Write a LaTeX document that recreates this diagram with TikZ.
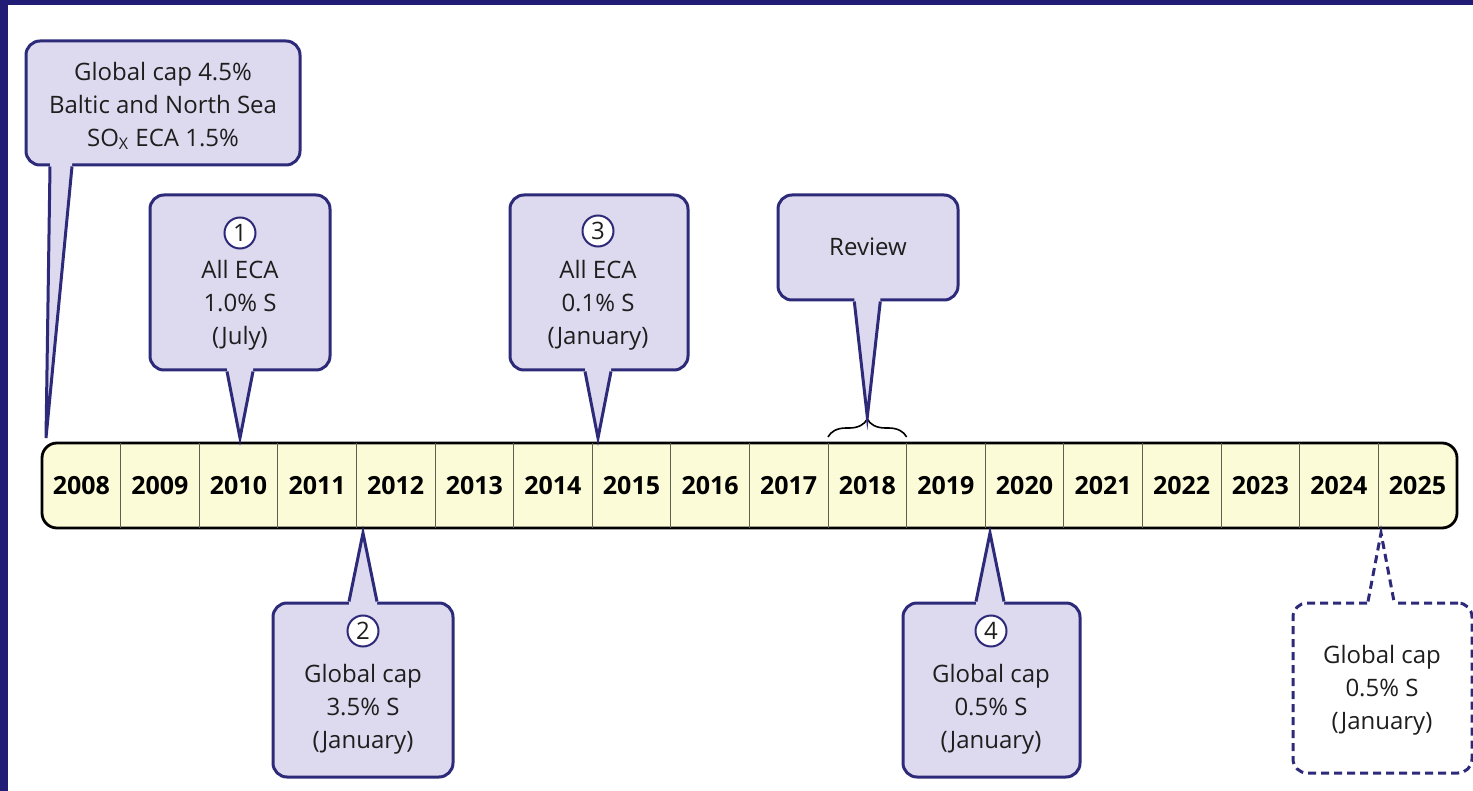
\documentclass[tikz,border=0pt]{standalone}
\usepackage{fontspec}
\setmainfont{Open Sans}
\usepackage{tikz}
\usetikzlibrary{calc}
\usetikzlibrary{positioning}
\usetikzlibrary{decorations.pathreplacing}
\definecolor{navyframe}{RGB}{33,28,118}
\definecolor{callborder}{RGB}{46,42,122}
\definecolor{callfill}{RGB}{221,217,238}
\definecolor{barfill}{RGB}{252,251,215}
\definecolor{divgray}{RGB}{95,95,80}
\definecolor{textgray}{RGB}{30,30,30}
\tikzset{>=latex}
\tikzstyle{callbox} = [rectangle, rounded corners=7pt, draw=callborder, fill=callfill, line width=1.5pt, inner sep=0pt]
\tikzstyle{dashbox} = [callbox, fill=white, dash pattern=on 4pt off 2.5pt]
\tikzstyle{calltail} = [draw=callborder, line width=1.5pt, line join=miter]
\tikzstyle{calltext} = [align=center, text=textgray, font=\fontsize{12}{16.5}\selectfont]
\tikzstyle{numcirc} = [circle, draw=callborder, fill=white, line width=1pt, minimum size=15.5pt, inner sep=0pt, text=textgray, font=\fontsize{12}{13}\selectfont]
\tikzstyle{cell} = [rectangle, minimum width=39.3pt, minimum height=42.5pt, inner sep=0pt, outer sep=0pt, font=\fontsize{12.5}{14}\selectfont\bfseries]

\begin{document}
\begin{tikzpicture}[x=0.5pt, y=-0.5pt]
\useasboundingbox (0,0) rectangle (1473,791);
\fill [navyframe] (0,0) rectangle (1473,5);
\fill [navyframe] (0,0) rectangle (8,791);

% timeline bar
\node [draw=black, fill=barfill, line width=1.4pt, rounded corners=7.5pt, minimum width=707.5pt, minimum height=42.5pt, inner sep=0pt] (bar) at (749.5,485.5) {};
\foreach \yr [count=\i from 0] in {2008,...,2025}
  \node [cell] (c\yr) at ({42+78.6*(\i+0.5)},485.5) {\yr};
\foreach \yr in {2008,...,2024}
  \draw [divgray, line width=0.5pt] (c\yr.north east) -- (c\yr.south east);

% review brace
\draw [decorate, decoration={brace, amplitude=9pt}, line width=0.8pt] ($(c2018.north west)+(0,3pt)$) -- ($(c2018.north east)+(0,3pt)$);

% tips on the bar
\coordinate (t0) at (46,438);
\coordinate (b0) at (61,165);
\coordinate (t1) at (240,438);
\coordinate (t3) at (598,438);
\coordinate (tr) at ($(c2018.north)+(0,13pt)$);
\coordinate (t2) at (363,533);
\coordinate (t4) at (990,533);
\coordinate (t5) at (1381,533);

% callouts above
\node [callbox, minimum width=137pt, minimum height=62pt] (n0) at (163,103) {};
\node [callbox, minimum width=90pt, minimum height=87.5pt] (n1) at (240,282.5) {};
\node [callbox, minimum width=89pt, minimum height=87.5pt] (n3) at (599,282.5) {};
\node [callbox, minimum width=90pt, minimum height=52.5pt] (nr) at (868,247.5) {};

% callouts below
\node [callbox, minimum width=90pt, minimum height=87pt] (n2) at (363,690) {};
\node [callbox, minimum width=88.5pt, minimum height=87pt] (n4) at (991.5,690) {};
\node [dashbox, minimum width=89.5pt, minimum height=85pt] (n5) at (1382.5,688) {};

% tails
\fill [callfill] ($(n0.south -| b0)+(-5.5pt,2pt)$) -- ($(n0.south -| b0)+(-5.5pt,0pt)$) -- (t0) -- ($(n0.south -| b0)+(5.5pt,0pt)$) -- ($(n0.south -| b0)+(5.5pt,2pt)$) -- cycle;
\draw [calltail] ($(n0.south -| b0)+(-5.5pt,0pt)$) -- (t0) -- ($(n0.south -| b0)+(5.5pt,0pt)$);
\foreach \n/\t in {n1/t1, n3/t3, nr/tr} {
  \fill [callfill] ($(\n.south -| \t)+(-6.5pt,2pt)$) -- ($(\n.south -| \t)+(-6.5pt,0pt)$) -- (\t) -- ($(\n.south -| \t)+(6.5pt,0pt)$) -- ($(\n.south -| \t)+(6.5pt,2pt)$) -- cycle;
  \draw [calltail] ($(\n.south -| \t)+(-6.5pt,0pt)$) -- (\t) -- ($(\n.south -| \t)+(6.5pt,0pt)$);
}
\foreach \n/\t in {n2/t2, n4/t4} {
  \fill [callfill] ($(\n.north -| \t)+(-7pt,-2pt)$) -- ($(\n.north -| \t)+(-7pt,0pt)$) -- (\t) -- ($(\n.north -| \t)+(7pt,0pt)$) -- ($(\n.north -| \t)+(7pt,-2pt)$) -- cycle;
  \draw [calltail] ($(\n.north -| \t)+(-7pt,0pt)$) -- (\t) -- ($(\n.north -| \t)+(7pt,0pt)$);
}
\fill [white] ($(n5.north -| t5)+(-6.5pt,-2pt)$) -- ($(n5.north -| t5)+(-6.5pt,0pt)$) -- (t5) -- ($(n5.north -| t5)+(6.5pt,0pt)$) -- ($(n5.north -| t5)+(6.5pt,-2pt)$) -- cycle;
\draw [calltail, dash pattern=on 4pt off 2.5pt] ($(n5.north -| t5)+(-6.5pt,0pt)$) -- (t5) -- ($(n5.north -| t5)+(6.5pt,0pt)$);

% numbers and texts
\node [calltext] (l0) at (163,106) {Global cap 4.5\%\\Baltic and North Sea\\SO\textsubscript{X} ECA 1.5\%};
\node [numcirc] (k1) at (240,233) {1};
\node [calltext] (l1) at (240,305) {All ECA\\1.0\% S\\(July)};
\node [numcirc] (k3) at (598,231) {3};
\node [calltext] (l3) at (598,305) {All ECA\\0.1\% S\\(January)};
\node [calltext] (lr) at (868,247) {Review};
\node [numcirc] (k2) at (363,631) {2};
\node [calltext] (l2) at (363,709) {Global cap\\3.5\% S\\(January)};
\node [numcirc] (k4) at (991,631) {4};
\node [calltext] (l4) at (991,709) {Global cap\\0.5\% S\\(January)};
\node [calltext] (l5) at (1382,690) {Global cap\\0.5\% S\\(January)};
\end{tikzpicture}
\end{document}
